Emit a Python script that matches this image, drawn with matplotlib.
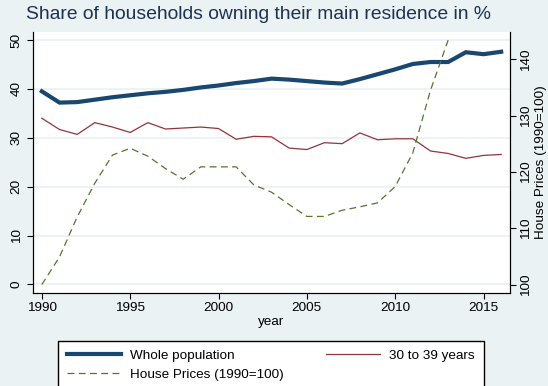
import matplotlib.pyplot as plt

plt.rcParams['font.family'] = ['Liberation Sans', 'DejaVu Sans']

# -------------------------------------------------
# data
# -------------------------------------------------
years = list(range(1990, 2017))

whole_population = [39.5, 37.2, 37.3, 37.8, 38.3, 38.7, 39.1, 39.4, 39.8, 40.3,
                    40.7, 41.2, 41.6, 42.1, 41.9, 41.6, 41.3, 41.1, 42.0, 43.0,
                    44.0, 45.1, 45.5, 45.5, 47.5, 47.1, 47.6]

age_30_39 = [34.0, 31.7, 30.7, 33.1, 32.2, 31.1, 33.1, 31.8, 32.0, 32.2,
             31.9, 29.7, 30.3, 30.2, 27.9, 27.6, 29.0, 28.8, 31.0, 29.6,
             29.8, 29.8, 27.3, 26.8, 25.8, 26.4, 26.6]

price_years = list(range(1990, 2014))
house_prices = [100.0, 104.9, 112.0, 118.0, 123.0, 124.2, 122.8, 120.6, 118.7, 120.9,
                120.9, 120.9, 117.7, 116.4, 114.2, 112.1, 112.1, 113.2, 113.8, 114.5,
                117.4, 123.4, 134.5, 143.4]

bg = "#eaf2f3"
navy = "#1a476f"
maroon = "#90353b"
green = "#55752f"

fig = plt.figure(figsize=(5.48, 3.86), dpi=100, facecolor=bg)
ax = fig.add_axes([33/548, 1 - 293.3/386, (510 - 33)/548, (293.3 - 31.7)/386])
ax.set_facecolor("white")

# left axis: ownership shares
l1, = ax.plot(years, whole_population, color=navy, lw=3.0, solid_joinstyle="miter")
l2, = ax.plot(years, age_30_39, color=maroon, lw=0.9)
ax.set_xlim(1989.5, 2016.5)
ax.set_ylim(-1.8, 51.7)
ax.set_yticks([0, 10, 20, 30, 40, 50])
ax.set_xticks([1990, 1995, 2000, 2005, 2010, 2015])
ax.grid(axis="y", color=bg, lw=1.3)
ax.set_axisbelow(True)
ax.spines["top"].set_visible(False)
ax.tick_params(axis="y", labelrotation=90, labelsize=9.7, length=4, width=0.8)
for lab in ax.get_yticklabels():
    lab.set_va("center")
ax.tick_params(axis="x", labelsize=9.7, length=4, width=0.8, pad=2)
ax.set_xlabel("year", fontsize=9.7, labelpad=2)

# right axis: house price index
ax2 = ax.twinx()
l3, = ax2.plot(price_years, house_prices, color=green, lw=0.9, dashes=(5.5, 3.5))
ax2.set_ylim(98.45, 144.9)
ax2.set_yticks([100, 110, 120, 130, 140])
ax2.spines["top"].set_visible(False)
ax2.tick_params(axis="y", labelrotation=90, labelsize=9.7, length=4, width=0.8)
for lab in ax2.get_yticklabels():
    lab.set_va("center")
ax2.set_ylabel("House Prices (1990=100)", fontsize=9.7, rotation=90, labelpad=2)

fig.suptitle("Share of households owning their main residence in %",
             x=0.4717, y=0.985, fontsize=13.9, color="#1e3150")

fig.legend([l1, l3, l2],
           ["Whole population", "House Prices (1990=100)", "30 to 39 years"],
           ncol=2, loc="upper left", mode="expand",
           bbox_to_anchor=(58.3/548, -0.02, (483.7 - 58.3)/548, 1 - 341/386 + 0.02),
           fontsize=9.7, frameon=True, fancybox=False, edgecolor="black",
           framealpha=1, handlelength=4.0, handletextpad=0.67,
           borderpad=0.65, labelspacing=0.45, borderaxespad=0)

fig.savefig("out.png", dpi=100, facecolor=bg)
